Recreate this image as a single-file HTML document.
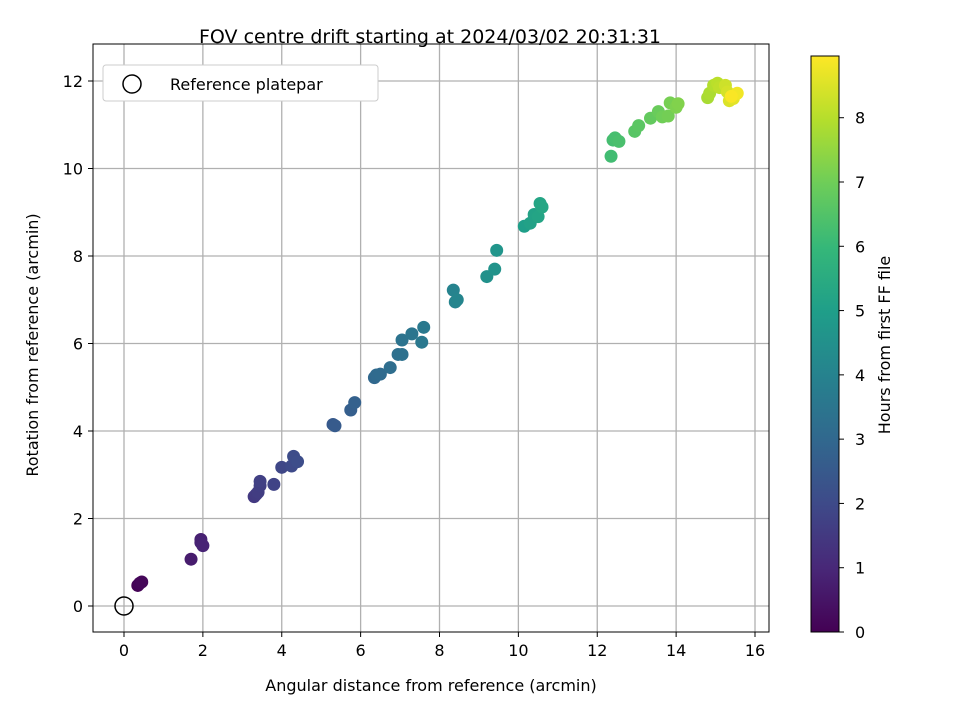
<!DOCTYPE html>
<html><head><meta charset="utf-8"><style>
body{margin:0;background:#fff;}
text{font-family:"DejaVu Sans","Liberation Sans",sans-serif;fill:#000;}
</style></head><body>
<svg id="chart" width="960" height="720" xmlns="http://www.w3.org/2000/svg">
<rect width="960" height="720" fill="#fff"/>
<text x="430" y="43" font-size="19" text-anchor="middle">FOV centre drift starting at 2024/03/02 20:31:31</text>
<g id="grid"></g>
<g id="points"></g>
<rect x="93" y="44" width="676" height="588" fill="none" stroke="#000" stroke-width="1"/>
<g id="xticks"></g>
<g id="yticks"></g>
<text x="431" y="691" font-size="16" text-anchor="middle">Angular distance from reference (arcmin)</text>
<text transform="translate(38,345) rotate(-90)" font-size="16" text-anchor="middle">Rotation from reference (arcmin)</text>
<g>
<rect x="103" y="65" width="275" height="36" rx="3" fill="#fff" stroke="#ccc"/>
<circle cx="132" cy="84" r="9" fill="none" stroke="#000" stroke-width="1.5"/>
<text x="170" y="90" font-size="16">Reference platepar</text>
</g>
<defs><linearGradient id="vir" x1="0" y1="1" x2="0" y2="0"></linearGradient></defs>
<rect id="cbar" x="811" y="56" width="28" height="576" fill="url(#vir)" stroke="#000"/>
<g id="cticks"></g>
<text transform="translate(890,345) rotate(-90)" font-size="16" text-anchor="middle">Hours from first FF file</text>
</svg>
<script>
const xTicks=[0,2,4,6,8,10,12,14,16];
const yTicks=[0,2,4,6,8,10,12];
const cTicks=[0,1,2,3,4,5,6,7,8];
const xVals=[0.35,0.4,0.45,1.7,1.95,1.95,2.0,3.3,3.35,3.4,3.45,3.45,3.8,4.0,4.25,4.3,4.4,5.3,5.35,5.75,5.85,6.35,6.4,6.5,6.75,6.95,7.05,7.05,7.3,7.55,7.6,8.35,8.4,8.45,9.2,9.4,9.45,10.15,10.3,10.4,10.5,10.55,10.6,12.35,12.4,12.45,12.55,12.95,13.05,13.35,13.55,13.65,13.8,13.85,14.0,14.05,14.8,14.85,14.95,15.05,15.1,15.25,15.3,15.35,15.45,15.55,15.4];
const yVals=[0.47,0.52,0.55,1.07,1.52,1.45,1.38,2.5,2.55,2.6,2.75,2.85,2.78,3.17,3.2,3.42,3.3,4.15,4.12,4.48,4.65,5.22,5.28,5.3,5.45,5.75,5.75,6.08,6.22,6.03,6.37,7.22,6.95,7.0,7.53,7.7,8.13,8.68,8.75,8.95,8.9,9.2,9.12,10.28,10.65,10.7,10.62,10.85,10.98,11.15,11.3,11.18,11.2,11.5,11.4,11.48,11.62,11.72,11.9,11.95,11.85,11.9,11.75,11.55,11.6,11.72,11.65];
const hours=[0.05,0.1,0.15,0.7,0.8,0.85,0.9,1.5,1.55,1.6,1.65,1.7,1.8,1.9,2.0,2.05,2.1,2.5,2.55,2.7,2.75,3.0,3.05,3.1,3.2,3.3,3.35,3.4,3.5,3.6,3.65,4.0,4.05,4.1,4.5,4.6,4.65,5.0,5.1,5.15,5.2,5.25,5.3,6.2,6.25,6.3,6.35,6.6,6.65,6.8,6.9,7.0,7.05,7.1,7.2,7.25,7.8,7.85,7.95,8.05,8.1,8.3,8.4,8.5,8.6,8.8,8.9];
const NS="http://www.w3.org/2000/svg";
const xS=v=>124+v*(755-124)/16;
const yS=v=>606-v*(606-81)/12;
const hMax=8.96;
const cS=v=>632-v*576/hMax;
const vir=[[68,1,84],[72,40,120],[62,74,137],[49,104,142],[38,130,142],[31,158,137],[53,183,121],[109,205,89],[180,222,44],[253,231,37]];
function col(t){t=Math.max(0,Math.min(1,t))*9;const i=Math.min(8,Math.floor(t)),f=t-i;const a=vir[i],b=vir[i+1];return `rgb(${a.map((c,k)=>Math.round(c+(b[k]-c)*f)).join(',')})`;}
function mk(tag,at,parent){const e=document.createElementNS(NS,tag);for(const k in at)e.setAttribute(k,at[k]);parent.appendChild(e);return e;}
const grid=document.getElementById('grid'),xt=document.getElementById('xticks'),yt=document.getElementById('yticks');
xTicks.forEach(v=>{const x=xS(v);
 const g=mk('line',{x1:x,x2:x,y1:44,y2:632,stroke:'#b0b0b0','stroke-width':1.3},grid);
 
 
 const t=mk('line',{x1:x,x2:x,y1:632,y2:637,stroke:'#000'},xt);
 
 
 const l=mk('text',{x:x,y:656,'font-size':16,'text-anchor':'middle'},xt);l.textContent=v;
 
 });
yTicks.forEach(v=>{const y=yS(v);
 const g=mk('line',{x1:93,x2:769,y1:y,y2:y,stroke:'#b0b0b0','stroke-width':1.3},grid);
 
 
 const t=mk('line',{x1:88,x2:93,y1:y,y2:y,stroke:'#000'},yt);
 
 
 const l=mk('text',{x:83,y:y+6,'font-size':16,'text-anchor':'end'},yt);l.textContent=v;
 
 });
const pts=document.getElementById('points');
xVals.forEach((v,i)=>{const c=mk('circle',{cx:xS(v),cy:yS(yVals[i]),r:6.5,fill:col(hours[i]/hMax)},pts);
 
 });
const ref=mk('circle',{cx:xS(0),cy:yS(0),r:9,fill:'none',stroke:'#000','stroke-width':1.5},pts);


const gr=document.getElementById('vir');
vir.forEach((c,i)=>mk('stop',{offset:(i/9),'stop-color':`rgb(${c.join(',')})`},gr));
const ct=document.getElementById('cticks');
cTicks.forEach(v=>{const y=cS(v);
 const t=mk('line',{x1:839,x2:844,y1:y,y2:y,stroke:'#000'},ct);
 
 
 const l=mk('text',{x:855,y:y+6,'font-size':16},ct);l.textContent=v;
 
 });
</script>
</body></html>
